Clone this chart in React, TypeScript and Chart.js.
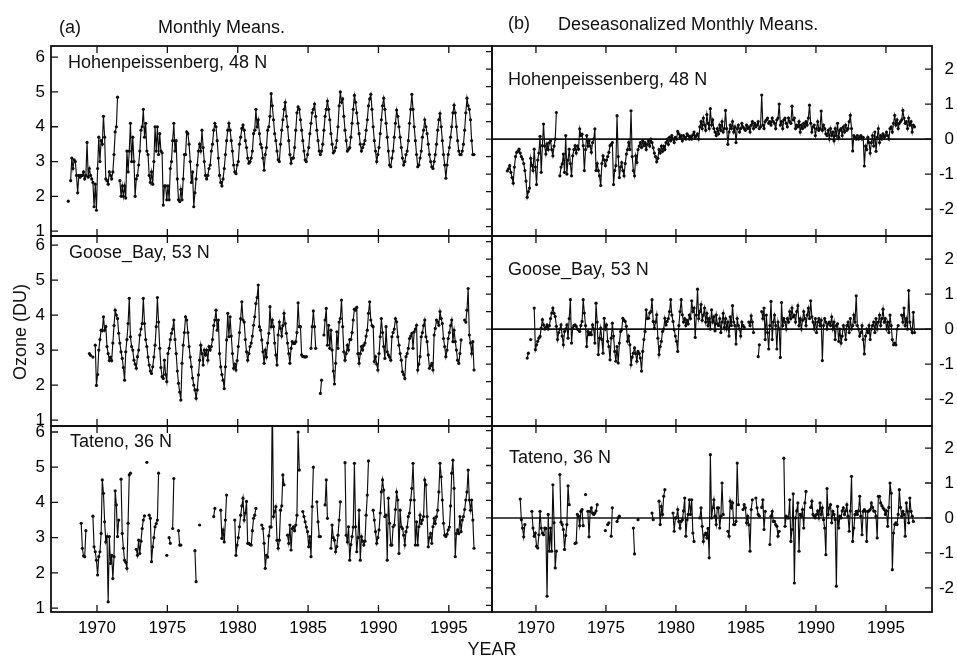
import React, { useEffect, useRef } from 'react';
import { Chart, registerables } from 'chart.js';

Chart.register(...registerables);

const _ = null;
const FONT = '"Liberation Sans", Arial, Helvetica, sans-serif';

// ---- tick labels ----
const YEAR_TICKS = [1970, 1975, 1980, 1985, 1990, 1995];
const MONTHLY_TICKS = [1, 2, 3, 4, 5, 6];
const ANOMALY_TICKS = [-2, -1, 0, 1, 2];
const ANOMALY_MINOR = [-2.5, -2, -1.5, -1, -0.5, 0, 0.5, 1, 1.5, 2, 2.5];
const MONTHS = 12;

// ---- Hohenpeissenberg, 48 N (rows = years, Jan..Dec) ----
const hohenStart = 1967;
const hohenMonthly = [
  [_, _, _, _, _, _, _, _, _, _, _, 1.86],
  [_, 2.45, 3.1, 2.8, 3.05, 3.0, 2.6, 2.1, 2.6, 2.55, 2.6, 2.6],
  [2.7, 2.5, 2.6, 3.55, 2.55, 2.8, 2.6, 2.5, 2.4, 1.7, 2.35, 1.6],
  [2.8, 3.7, 3.0, 3.6, 3.5, 4.3, 3.7, 2.5, 2.45, 2.35, 2.7, 2.6],
  [2.5, 2.7, 3.2, 3.85, 4.0, 4.85, _, 2.45, 2.0, 2.3, 2.0, 2.3],
  [1.95, 3.3, 2.7, 3.3, 4.1, 3.0, 3.7, 3.0, 2.0, 2.5, 2.6, 2.9],
  [3.3, 3.9, 4.0, 4.5, 3.7, 4.1, 3.3, 3.2, 2.6, 2.4, 2.7, 2.35],
  [3.0, 4.0, 3.3, 4.0, 3.2, 3.8, 3.3, 3.25, 1.75, 2.3, 2.3, 1.9],
  [2.3, 1.9, 2.8, 3.0, 3.6, 4.1, 3.3, 3.6, 2.5, 1.9, 1.85, 2.2],
  [1.9, 2.5, 3.2, 3.2, 3.85, 3.8, 3.5, 3.0, 2.4, 2.7, 1.7, 2.1],
  [2.5, 2.9, 3.3, 3.5, 3.3, 3.9, 3.4, 3.0, 2.6, 2.5, 2.6, 2.8],
  [2.9, 3.3, 3.5, 3.9, 4.1, 4.0, 3.6, 3.1, 2.6, 2.4, 2.3, 2.5],
  [2.8, 3.2, 3.6, 3.9, 4.1, 3.9, 3.6, 3.3, 2.9, 2.7, 2.65, 2.9],
  [3.0, 3.5, 3.7, 3.95, 4.05, 3.9, 3.6, 3.4, 3.1, 2.95, 3.0, 3.1],
  [3.3, 3.8, 3.9, 4.5, 4.0, 4.2, 3.8, 3.5, 3.4, 3.1, 2.75, 3.2],
  [3.4, 3.9, 4.0, 4.3, 4.95, 4.6, 4.2, 3.8, 3.6, 3.3, 3.05, 3.0],
  [3.5, 3.9, 4.2, 4.5, 4.7, 4.3, 4.0, 3.6, 3.2, 2.95, 3.1, 3.1],
  [3.4, 3.9, 4.4, 4.57, 4.5, 4.2, 3.9, 3.6, 3.3, 3.05, 3.0, 3.2],
  [3.4, 3.8, 4.1, 4.4, 4.5, 4.65, 4.3, 3.9, 3.6, 3.3, 3.2, 3.3],
  [3.5, 3.9, 4.3, 4.5, 4.74, 4.5, 4.2, 3.8, 3.5, 3.25, 3.3, 3.4],
  [3.6, 4.0, 4.6, 5.0, 4.7, 4.8, 4.3, 3.9, 3.6, 3.3, 3.35, 3.4],
  [3.7, 4.1, 4.5, 4.9, 4.7, 4.4, 4.1, 3.8, 3.5, 3.3, 3.4, 3.5],
  [3.6, 3.9, 4.2, 4.6, 4.8, 4.93, 4.5, 4.0, 3.6, 3.3, 3.0, 3.2],
  [3.4, 3.8, 4.2, 4.6, 4.82, 4.5, 4.1, 3.7, 3.3, 2.9, 2.85, 3.1],
  [3.3, 3.7, 4.1, 4.48, 4.3, 4.0, 3.7, 3.4, 3.1, 2.9, 3.0, 3.2],
  [3.3, 3.6, 4.1, 4.5, 4.93, 4.5, 4.0, 3.6, 3.2, 2.85, 2.9, 3.1],
  [3.3, 3.7, 3.9, 4.2, 4.0, 3.8, 3.5, 3.2, 3.0, 2.85, 2.8, 3.0],
  [3.2, 3.5, 3.9, 4.2, 4.38, 4.0, 3.6, 3.2, 2.9, 2.52, 2.9, 3.2],
  [3.4, 3.7, 4.0, 4.4, 4.62, 4.4, 4.0, 3.6, 3.3, 3.2, 3.2, 3.3],
  [3.5, 3.9, 4.4, 4.82, 4.6, 4.5, 4.2, 3.6, 3.2, 3.2, _, _],
];
const hohenDeseason = [
  [_, _, _, _, _, _, _, _, _, _, _, -0.91],
  [-0.85, -0.76, -0.95, -1.1, -1.26, -0.8, -0.5, -0.38, -0.35, -0.29, -0.4, -0.5],
  [-0.57, -0.7, -0.9, -1.2, -1.66, -1.5, -1.4, -0.55, -0.75, -0.9, -0.29, -0.8],
  [-1.3, -0.6, -0.4, 0.08, -0.95, -0.19, 0.43, -0.2, -0.43, -0.14, -0.3, -0.1],
  [-0.05, -0.3, -0.48, -0.2, 0.0, 0.76, _, _, -1.05, -0.8, -0.71, -0.43],
  [-0.95, 0.1, -1.0, -0.6, -0.29, -0.7, -1.05, -0.48, -0.3, -0.19, -0.4, -0.2],
  [-0.29, 0.29, 0.1, 0.14, -0.19, -0.9, -0.3, 0.1, -0.2, -0.05, -0.2, -0.38],
  [-0.1, 0.0, 0.29, -0.9, -0.7, -0.9, -1.05, -1.33, -0.7, -0.48, -0.6, -0.76],
  [-0.6, -0.5, -0.38, -0.19, -0.15, -0.1, -1.3, -0.9, -0.76, 0.67, -0.5, -1.1],
  [-0.8, -0.67, -0.9, -1.05, -0.7, -0.43, -0.3, -0.1, -0.3, 0.81, -0.5, -0.9],
  [-1.05, -0.48, -0.67, -0.3, -0.2, -0.1, -0.24, -0.05, -0.19, -0.1, -0.3, -0.15],
  [-0.05, -0.2, 0.0, -0.1, -0.25, -0.4, -0.5, -0.65, -0.55, -0.3, -0.4, -0.2],
  [-0.35, -0.2, -0.3, -0.1, 0.0, -0.15, 0.05, -0.05, 0.1, 0.0, -0.1, 0.05],
  [0.0, 0.22, 0.15, 0.05, 0.1, -0.05, 0.1, 0.05, 0.0, 0.15, 0.1, 0.0],
  [0.08, 0.0, 0.12, 0.2, 0.05, 0.1, 0.15, 0.0, 0.35, 0.5, 0.3, 0.6],
  [0.4, 0.25, 0.7, 0.45, 0.3, 0.87, 0.4, 0.55, 0.3, 0.2, 0.1, 0.3],
  [0.15, 0.4, 0.25, 0.5, 0.2, 0.3, 0.82, 0.3, -0.15, 0.2, 0.4, 0.3],
  [0.5, 0.2, 0.35, -0.1, 0.3, 0.4, 0.2, 0.3, 0.45, 0.35, 0.3, 0.25],
  [0.4, 0.3, 0.35, 0.2, 0.4, 0.5, 0.3, 0.45, 0.35, 0.4, 0.5, 0.3],
  [0.35, 1.26, 0.4, 0.3, 0.5, 0.55, 0.6, 0.45, 0.5, 0.4, 0.6, 0.5],
  [0.45, 0.3, 0.55, 0.6, 1.0, 0.4, 0.5, 0.3, 0.55, 0.6, 0.45, 0.35],
  [0.6, 0.5, 0.45, 0.94, 0.55, 0.6, 0.3, 0.4, 0.35, 0.5, 0.2, 0.4],
  [0.3, 0.45, 0.35, 0.5, 0.4, 0.6, 0.97, 0.45, 0.2, 0.35, 0.4, 0.1],
  [0.3, 0.5, 0.25, 0.3, 0.8, 0.25, 0.4, 0.3, 0.15, 0.1, 0.25, 0.0],
  [0.3, 0.1, 0.2, -0.05, 0.3, 0.1, 0.45, 0.05, 0.25, 0.3, 0.1, 0.35],
  [0.2, 0.4, 0.25, 0.3, 0.5, 0.68, 0.3, -0.34, 0.1, 0.05, 0.0, 0.1],
  [0.0, 0.05, 0.1, 0.0, 0.05, -0.77, -0.2, -0.3, 0.05, -0.1, -0.4, -0.1],
  [0.1, -0.2, 0.2, -0.35, 0.05, 0.3, -0.1, 0.1, 0.0, 0.15, 0.05, 0.1],
  [0.2, 0.1, 0.0, 0.3, 0.35, 0.2, 0.45, 0.68, 0.4, 0.55, 0.3, 0.45],
  [0.5, 0.55, 0.82, 0.6, 0.45, 0.5, 0.3, 0.6, 0.4, 0.5, 0.2, 0.4],
  [0.35],
];

// ---- Goose_Bay, 53 N ----
const gooseStart = 1969;
const gooseMonthly = [
  [_, _, _, _, _, 2.9, 2.85, _, 2.8, _, 3.14, 1.99],
  [2.3, 3.0, 3.3, 3.57, 3.55, 3.95, 3.57, 3.67, 3.1, 2.9, 2.7, 2.8],
  [2.7, 3.2, 3.7, 4.14, 4.0, 3.9, 3.48, 3.2, 2.95, 2.76, 2.5, 2.14],
  [2.95, 3.3, 3.76, 4.48, 3.38, 3.1, 3.0, 2.71, 2.6, 2.48, 2.81, 3.0],
  [3.43, 3.6, 3.76, 4.48, 3.76, 3.3, 3.1, 2.8, 2.57, 2.4, 2.33, 2.52],
  [2.8, 3.14, 3.67, 4.5, 3.8, 3.05, 2.5, 2.24, 2.19, 2.71, 2.3, 2.1],
  [2.9, 3.05, 3.3, 3.48, 3.6, 3.86, 3.3, 2.9, 2.4, 2.05, 1.8, 1.57],
  [2.62, 3.14, 3.5, 3.95, 3.86, 3.5, 3.1, 2.8, 2.52, 2.2, 2.0, 1.86],
  [1.62, 1.86, 2.29, 2.71, 3.14, 2.9, 2.57, 3.0, 2.86, 3.0, 2.71, 3.1],
  [3.0, 3.1, 3.3, 3.7, 3.86, 4.14, 3.57, 3.86, 2.9, 2.52, 2.3, 2.14],
  [1.9, 2.52, 3.29, 4.05, 3.38, 3.95, 3.4, 2.9, 2.48, 2.6, 2.43, 2.7],
  [3.1, 3.5, 3.9, 4.38, 3.86, 3.8, 3.3, 2.95, 2.71, 2.9, 3.1, 3.2],
  [3.4, 3.71, 3.95, 4.33, 4.5, 4.86, 3.67, 3.57, 3.29, 2.95, 2.62, 3.0],
  [2.8, 3.2, 3.48, 4.24, 3.67, 3.86, 3.67, 3.2, 2.86, 2.57, 3.43, 3.8],
  [3.62, 3.4, 3.7, 4.05, 3.76, 3.48, 3.2, 2.9, 2.62, 3.05, 3.24, 3.19],
  [3.19, 3.24, 3.5, 4.35, 3.67, 3.67, 2.86, 2.81, 2.81, 2.8, 2.81, _],
  [_, _, 3.05, 3.67, 4.12, 3.67, 3.05, _, _, _, 1.76, 2.14],
  [_, 3.43, 3.86, 4.19, 3.14, 3.71, 3.05, 3.57, 3.0, 2.4, 2.03, 2.62],
  [3.52, 3.05, 3.8, 3.9, 4.43, 3.67, 2.95, 2.71, 2.9, 3.14, 3.0, 3.3],
  [3.3, 3.5, 3.86, 4.17, 4.14, 4.22, 2.9, 2.62, 2.9, 3.1, 3.0, 3.14],
  [3.2, 3.4, 3.57, 4.05, 4.38, 3.86, 3.7, 3.67, 2.67, 2.81, 2.6, 2.43],
  [2.9, 3.38, 3.9, 3.5, 3.1, 2.76, 3.67, 2.95, 2.86, 2.8, 2.71, 3.38],
  [3.5, 3.6, 3.9, 3.81, 3.38, 3.14, 2.9, 2.71, 2.38, 2.3, 2.19, 2.81],
  [2.9, 3.05, 3.33, 3.4, 3.48, 3.05, 3.52, 3.6, 3.71, 2.43, 2.6, 2.81],
  [3.38, 3.5, 3.7, 3.86, 3.38, 3.24, 2.86, 2.48, 2.55, 2.62, 2.43, 3.43],
  [3.62, 3.86, 3.8, 3.71, 4.1, 3.9, 3.76, 3.33, 3.1, 2.81, 3.0, 3.33],
  [3.5, 3.7, 3.86, 3.24, 3.57, 3.24, 3.0, 2.71, 2.62, 2.9, 3.29, _],
  [_, 3.86, 3.8, 4.14, 4.76, 3.43, 3.2, 2.9, 3.24, 2.43, _, _],
];
const gooseDeseason = [
  [_, _, _, _, -0.83, -0.69, _, -0.3, _, _, 0.6, -0.59],
  [-0.45, -0.35, -0.26, -0.21, 0.03, 0.27, 0.12, 0.0, 0.05, 0.12, 0.0, 0.1],
  [0.3, 0.46, 0.6, 0.45, 0.36, 0.08, -0.3, -0.1, 0.0, 0.12, -0.2, -0.45],
  [-0.07, 0.0, 0.12, -0.26, 0.3, 0.84, -0.4, 0.03, 0.1, 0.12, 0.08, 0.0],
  [-0.02, -0.07, 0.1, 0.22, 0.84, 0.46, 0.1, -0.5, -0.07, -0.16, -0.1, -0.16],
  [0.12, 0.0, -0.4, 0.74, 0.2, -0.73, -0.26, 0.03, -0.3, -0.69, 0.31, 0.0],
  [0.12, -0.35, -0.5, -0.88, -0.26, 0.17, -0.2, -0.64, -0.92, -0.5, -0.97, -0.4],
  [-0.07, -0.02, 0.31, 0.25, 0.22, 0.08, -0.35, -0.2, -0.45, -1.02, -0.8, -0.69],
  [-0.54, -0.7, -0.92, -0.64, -0.7, -0.83, -1.2, -0.64, -0.3, -0.07, 0.55, 0.3],
  [0.31, 0.46, 0.5, 0.84, 0.22, 0.03, 0.2, 0.41, -0.26, -0.73, -0.5, -0.35],
  [-0.07, 0.0, 0.31, 0.12, 0.22, 0.3, 0.5, 0.84, 0.4, 0.22, -0.02, -0.2],
  [-0.35, -0.64, 0.1, 0.5, 0.84, 0.41, 0.2, 0.3, 0.1, 0.25, 0.15, 0.4],
  [0.3, 0.81, 0.5, 0.6, -0.24, 0.4, 1.14, 0.3, 0.5, 0.7, 0.25, 0.4],
  [0.6, 0.2, 0.45, 0.1, 0.3, 0.0, 0.55, 0.2, 0.35, -0.05, 0.4, 0.15],
  [0.1, 0.3, -0.1, 0.2, 0.45, 0.05, 0.3, 0.0, 0.2, -0.2, 0.35, 0.1],
  [0.67, 0.2, 0.1, -0.43, 0.3, 0.1, 0.0, -0.2, 0.2, 0.1, 0.05, _],
  [_, _, 0.2, 0.1, 0.38, 0.2, -0.1, _, _, _, -0.79, -0.45],
  [_, 0.5, 0.3, 0.6, -0.3, 0.4, -0.1, -0.57, 0.1, 0.79, -0.3, 0.2],
  [0.4, 0.1, -0.57, 0.2, 0.0, -0.81, 0.76, 0.1, 0.3, 0.2, 0.0, 0.3],
  [0.2, 0.5, 0.3, 0.6, 0.35, 0.4, 0.2, 0.5, 0.67, 0.1, 0.3, 0.0],
  [0.25, 0.5, 0.3, 0.1, 0.4, 0.6, 0.3, 0.81, 0.35, 0.2, 0.0, 0.3],
  [-0.1, 0.2, 0.3, 0.1, 0.25, -0.9, 0.1, 0.3, 0.2, 0.0, 0.15, 0.2],
  [0.1, 0.35, 0.0, 0.2, -0.3, 0.1, 0.15, -0.35, 0.0, -0.4, -0.2, 0.1],
  [0.0, -0.3, 0.1, 0.2, -0.1, 0.3, 0.0, 0.1, 0.4, 0.2, 0.95, 0.1],
  [0.0, -0.2, -0.1, 0.1, -0.3, -0.71, -0.2, 0.0, -0.1, 0.1, -0.3, 0.0],
  [0.1, 0.2, -0.1, 0.3, 0.0, 0.2, 0.4, 0.1, 0.3, 0.57, 0.2, 0.3],
  [0.0, 0.2, -0.1, 0.4, 0.1, -0.3, -0.45, -0.4, -0.45, 0.0, 0.1, _],
  [_, 0.4, 0.2, 0.6, 0.1, 0.3, 0.0, 1.1, 0.2, 0.0, -0.1, 0.48],
  [-0.1],
];

// ---- Tateno, 36 N ----
const tatenoStart = 1968;
const tatenoMonthly = [
  [_, _, _, _, _, _, _, _, _, _, 3.41, 2.7],
  [2.48, 2.46, 3.2, _, _, _, _, _, 3.61, 2.74, 2.6, 2.36],
  [1.94, 2.46, 2.6, 3.12, 4.64, 4.26, 3.45, 2.88, 3.03, 1.18, 3.03, 2.27],
  [2.5, 1.84, 2.46, 4.33, 3.93, 3.03, 3.5, _, 4.66, 3.12, 2.7, 2.36],
  [2.3, 2.13, 3.41, 4.78, 4.83, _, _, _, _, 2.67, 2.5, 2.93],
  [2.55, 2.9, 3.26, 3.5, 3.62, _, 5.14, _, 3.64, 3.55, 2.32, 2.74],
  [3.0, 3.31, 3.4, 3.5, 4.83, _, _, _, _, _, _, 2.5],
  [_, 3.0, 2.84, _, 3.26, 4.68, _, _, _, 3.2, 2.79, 2.79],
  [_, _, _, _, _, _, _, _, _, _, _, 2.63],
  [1.75, _, _, 3.36, _, _, _, _, _, _, _, _],
  [_, _, _, 3.6, 3.83, _, _, _, _, 3.78, 2.98, 3.22],
  [2.88, 3.5, 4.21, _, _, _, _, _, _, 3.5, 2.5, 2.79],
  [3.0, 3.31, 3.64, 3.9, 4.12, 3.5, 3.7, 4.03, 2.84, 2.84, 2.8, 2.79],
  [3.2, 3.55, 3.64, 3.83, _, _, _, _, 3.36, 3.26, 2.84, 2.13],
  [2.5, 2.45, 3.05, 3.31, 3.3, 7.0, 3.6, 3.74, 3.88, 2.93, 2.7, 2.93],
  [3.78, 3.9, 4.78, 4.5, _, _, 3.07, 2.84, 3.36, 2.65, 3.26, 3.31],
  [3.2, 3.36, 3.64, 6.0, 4.92, _, _, 3.74, 3.6, 3.45, 3.3, 3.17],
  [2.74, 3.03, 2.46, 3.88, 5.0, _, _, 4.02, 3.45, 3.03, 3.03, _],
  [_, _, 3.93, 4.64, 3.55, _, _, 2.7, 3.36, 3.0, 2.93, 2.6],
  [2.75, 3.07, 3.5, 4.02, _, _, _, 5.13, 3.07, 2.88, 3.31, 2.36],
  [2.8, 3.03, 3.3, 5.11, 3.31, 2.6, 3.0, 3.78, 2.36, 3.03, 2.9, 2.79],
  [2.9, 3.64, 4.21, 5.18, _, _, _, 3.78, 3.5, 3.17, 2.84, 3.0],
  [3.22, 3.7, 4.3, 4.64, 4.35, 3.6, 3.64, 2.36, 4.12, 3.41, 2.79, 2.79],
  [3.31, 3.36, 3.8, 4.3, 4.07, 2.55, 3.78, 3.31, 3.26, 3.07, 2.79, 3.17],
  [3.3, 3.6, 3.7, 4.07, 4.4, 5.11, 4.07, 2.79, 3.45, 2.79, 3.31, 3.64],
  [3.4, 3.5, 3.6, 4.64, 4.5, 3.6, 2.74, 3.0, 3.12, 2.84, 3.31, 3.55],
  [3.4, 3.6, 3.78, 4.3, 5.11, 4.73, 4.07, 3.41, 3.07, 3.03, 3.1, 3.22],
  [3.3, 3.9, 4.83, 5.2, 4.4, 2.46, 3.12, 3.22, 3.12, 3.6, 3.17, 3.5],
  [3.6, 3.8, 4.07, 4.3, 4.92, 4.07, 3.78, 4.07, 3.5, 2.7, _, _],
];
const tatenoDeseason = [
  [_, _, _, _, _, _, _, _, _, _, 0.54, -0.05],
  [-0.29, -0.54, -0.19, _, _, _, _, _, 0.19, -0.29, -0.52, -0.43],
  [-0.81, -0.86, -0.48, 0.19, -0.29, -0.43, -0.48, -0.29, -0.3, -2.24, 0.1, -0.95],
  [-0.29, -0.95, 0.95, -0.14, -1.43, -0.95, _, _, 1.24, -0.12, -0.19, -0.33],
  [-0.9, -0.5, -0.19, 0.92, 0.38, _, _, _, _, -0.73, -0.71, 0.1],
  [0.05, -0.22, 0.19, 0.24, -0.22, _, 0.67, _, 0.19, -0.54, 0.19, 0.29],
  [0.14, 0.1, 0.14, 0.2, 0.38, _, _, _, _, _, _, -0.36],
  [_, -0.19, -0.14, _, -0.52, 0.29, _, _, _, -0.1, 0.0, 0.05],
  [_, _, _, _, _, _, _, _, _, _, _, -0.29],
  [-1.03, _, _, -0.05, _, _, _, _, _, _, _, _],
  [_, _, _, 0.14, -0.05, _, _, _, _, 0.48, -0.19, 0.33],
  [0.1, 0.62, 0.81, _, _, _, _, _, _, 0.14, -0.38, 0.0],
  [0.0, 0.24, -0.1, -0.29, -0.1, -0.05, 0.2, 0.57, -0.52, -0.05, 0.1, 0.52],
  [0.1, 0.52, -0.43, -0.67, _, _, _, _, 0.0, 0.29, -0.24, -0.67],
  [-0.48, -0.43, -0.57, -0.3, -1.14, 1.81, 0.0, 0.29, 0.52, 0.05, -0.19, 0.29],
  [0.29, -0.29, 0.05, 1.0, 0.1, _, _, _, -0.38, -0.52, 0.48, 0.29],
  [0.43, -0.19, -0.19, -0.1, 1.57, 0.38, _, _, _, 0.24, 0.38, 0.29],
  [-0.14, 0.05, -0.2, -0.95, 0.24, 0.52, _, _, 0.57, 0.29, 0.1, 0.05],
  [_, 0.3, 0.52, -0.33, 0.19, _, _, _, -0.76, 0.05, 0.19, -0.1],
  [-0.1, -0.19, -0.24, -0.52, -0.38, _, _, _, 1.71, -0.24, 0.05, 0.0],
  [0.0, 0.52, -0.67, -0.33, 0.69, -1.86, 0.0, 0.2, 0.43, -0.95, 0.1, 0.05],
  [0.24, -0.29, 0.43, 0.76, _, _, _, 0.3, 0.48, 0.1, 0.05, 0.0],
  [0.1, 0.2, 0.0, 0.43, 0.1, 0.29, -0.05, -0.29, -1.05, 0.84, 0.1, 0.29],
  [0.38, -0.14, 0.19, 0.1, -0.05, -1.95, 0.33, -0.29, 0.05, 0.0, 0.2, 0.29],
  [0.1, 0.2, 0.38, 0.05, -0.38, 0.2, 1.19, -0.67, -0.29, 0.1, 0.19, 0.1],
  [0.2, 0.62, 0.05, -0.48, 0.19, 0.24, 0.19, -0.67, 0.19, 0.2, 0.24, 0.43],
  [0.3, 0.2, 0.19, 0.05, -0.57, 0.62, 0.62, 0.43, 0.35, 0.29, 0.24, 0.1],
  [0.2, -0.24, 0.3, 1.0, 0.71, -1.48, -0.43, -0.19, -0.14, -0.19, 0.1, 0.81],
  [0.3, 0.05, 0.19, 0.1, -0.52, 0.43, 0.19, -0.14, 0.57, 0.19, 0.05, -0.1],
];

// ---- layout (not data) ----
const COLS = [
  { canvasLeft: 0, canvasWidth: 500, xMin: 1966.73, xMax: 1998.07 },
  { canvasLeft: 484, canvasWidth: 473, xMin: 1966.86, xMax: 1998.29 },
];
const ROWS = [
  { canvasTop: 36, canvasHeight: 210, axisH: 10 },
  { canvasTop: 226, canvasHeight: 210, axisH: 10 },
  { canvasTop: 416, canvasHeight: 240, axisH: 44 },
];

type Rows = (number | null)[][];
type Spec = { key: string; col: number; row: number; rows: Rows; start: number; yMin: number; yMax: number };

const SPECS: Spec[] = [
  { key: 'a1', col: 0, row: 0, rows: hohenMonthly, start: hohenStart, yMin: 0.86, yMax: 6.32 },
  { key: 'b1', col: 1, row: 0, rows: hohenDeseason, start: hohenStart, yMin: -2.77, yMax: 2.66 },
  { key: 'a2', col: 0, row: 1, rows: gooseMonthly, start: gooseStart, yMin: 0.83, yMax: 6.26 },
  { key: 'b2', col: 1, row: 1, rows: gooseDeseason, start: gooseStart, yMin: -2.77, yMax: 2.66 },
  { key: 'a3', col: 0, row: 2, rows: tatenoMonthly, start: tatenoStart, yMin: 0.89, yMax: 6.17 },
  { key: 'b3', col: 1, row: 2, rows: tatenoDeseason, start: tatenoStart, yMin: -2.69, yMax: 2.63 },
];

function toPoints(rows: Rows, start: number) {
  const pts: { x: number; y: number | null }[] = [];
  rows.forEach((row, yi) => {
    row.forEach((v, m) => {
      pts.push({ x: start + yi + (m + 0.5) / MONTHS, y: v });
    });
  });
  return pts;
}

function framePlugin(s: Spec) {
  const ink = '#111';
  return {
    id: 'panelFrame',
    beforeDatasetsDraw(chart: any) {
      if (s.col !== 1) return;
      const { ctx, chartArea: a, scales } = chart;
      const y0 = scales.y.getPixelForValue(0);
      ctx.save();
      ctx.strokeStyle = ink;
      ctx.lineWidth = 1.6;
      ctx.beginPath();
      ctx.moveTo(a.left, y0);
      ctx.lineTo(a.right, y0);
      ctx.stroke();
      ctx.restore();
    },
    afterDatasetsDraw(chart: any) {
      const { ctx, chartArea: a, scales } = chart;
      const xs = scales.x;
      const ys = scales.y;
      ctx.save();
      ctx.strokeStyle = ink;
      ctx.lineWidth = 1.8;
      ctx.strokeRect(a.left, a.top, a.right - a.left, a.bottom - a.top);
      ctx.lineWidth = 1.3;
      ctx.beginPath();
      const tl = 7;
      for (const yr of YEAR_TICKS) {
        const px = xs.getPixelForValue(yr);
        ctx.moveTo(px, a.top);
        ctx.lineTo(px, a.top + tl);
        ctx.moveTo(px, a.bottom);
        ctx.lineTo(px, a.bottom - tl);
      }
      if (s.col === 0) {
        for (const v of MONTHLY_TICKS) {
          const py = ys.getPixelForValue(v);
          if (py < a.top || py > a.bottom) continue;
          ctx.moveTo(a.left, py);
          ctx.lineTo(a.left + tl, py);
        }
      } else {
        for (const v of ANOMALY_TICKS) {
          const py = ys.getPixelForValue(v);
          ctx.moveTo(a.right, py);
          ctx.lineTo(a.right - tl, py);
        }
        for (const v of ANOMALY_MINOR) {
          const py = ys.getPixelForValue(v);
          if (py < a.top + 1 || py > a.bottom - 1) continue;
          ctx.moveTo(a.left, py);
          ctx.lineTo(a.left - 6, py);
        }
      }
      ctx.stroke();
      ctx.restore();
    },
  };
}

function makeConfig(s: Spec): any {
  const isLeft = s.col === 0;
  const isBottom = s.row === 2;
  const col = COLS[s.col];
  const row = ROWS[s.row];
  const tickFont = { family: FONT, size: 17 };
  return {
    type: 'line',
    data: {
      datasets: [
        {
          data: toPoints(s.rows, s.start),
          borderColor: '#0d0d0d',
          borderWidth: 1.15,
          pointRadius: 1.6,
          pointHoverRadius: 0,
          pointBackgroundColor: '#0d0d0d',
          pointBorderWidth: 0,
          tension: 0,
          spanGaps: false,
          clip: 0,
        },
      ],
    },
    options: {
      responsive: false,
      maintainAspectRatio: false,
      animation: false,
      devicePixelRatio: 1,
      events: [],
      layout: {
        padding: { left: isLeft ? 0 : 8, right: isLeft ? 8 : 3, top: 10, bottom: 0 },
      },
      plugins: { legend: { display: false }, tooltip: { enabled: false }, title: { display: false } },
      scales: {
        x: {
          type: 'linear',
          min: col.xMin,
          max: col.xMax,
          display: true,
          grid: { display: false, drawTicks: false },
          border: { display: false },
          ticks: {
            display: isBottom,
            color: '#000',
            font: tickFont,
            padding: 6,
            maxRotation: 0,
            autoSkip: false,
            callback: (v: number) => String(v),
          },
          afterBuildTicks: (sc: any) => {
            sc.ticks = YEAR_TICKS.map((v) => ({ value: v }));
          },
          afterFit: (sc: any) => {
            sc.height = row.axisH;
            sc.paddingLeft = 0;
            sc.paddingRight = 0;
            sc.paddingTop = 0;
            sc.paddingBottom = 0;
          },
        },
        y: {
          type: 'linear',
          position: isLeft ? 'left' : 'right',
          min: s.yMin,
          max: s.yMax,
          grid: { display: false, drawTicks: false },
          border: { display: false },
          ticks: {
            color: '#000',
            font: tickFont,
            padding: 6,
            crossAlign: isLeft ? 'near' : 'far',
            callback: (v: number) => String(v),
          },
          afterBuildTicks: (sc: any) => {
            sc.ticks = (isLeft ? MONTHLY_TICKS : ANOMALY_TICKS).map((v) => ({ value: v }));
          },
          afterFit: (sc: any) => {
            sc.width = isLeft ? 51 : 22;
            sc.paddingTop = 0;
            sc.paddingBottom = 0;
            sc.paddingLeft = 0;
            sc.paddingRight = 0;
          },
        },
      },
    },
    plugins: [framePlugin(s)],
  };
}

function Panel({ spec }: { spec: Spec }) {
  const ref = useRef<HTMLCanvasElement>(null);
  const col = COLS[spec.col];
  const row = ROWS[spec.row];
  useEffect(() => {
    if (!ref.current) return;
    const chart = new Chart(ref.current, makeConfig(spec));
    return () => chart.destroy();
  }, [spec]);
  return (
    <canvas
      ref={ref}
      width={col.canvasWidth}
      height={row.canvasHeight}
      style={{
        position: 'absolute',
        left: col.canvasLeft,
        top: row.canvasTop,
        width: col.canvasWidth,
        height: row.canvasHeight,
      }}
    />
  );
}

const TEXTS = [
  { text: '(a)', left: 59, top: 18 },
  { text: 'Monthly Means.', left: 158, top: 18 },
  { text: '(b)', left: 508, top: 14 },
  { text: 'Deseasonalized Monthly Means.', left: 558, top: 15 },
  { text: 'Hohenpeissenberg, 48 N', left: 68, top: 53 },
  { text: 'Hohenpeissenberg, 48 N', left: 508, top: 70 },
  { text: 'Goose_Bay, 53 N', left: 69, top: 243 },
  { text: 'Goose_Bay, 53 N', left: 508, top: 260 },
  { text: 'Tateno, 36 N', left: 70, top: 432 },
  { text: 'Tateno, 36 N', left: 509, top: 448 },
];

export default function App() {
  const base: React.CSSProperties = {
    position: 'absolute',
    fontFamily: FONT,
    fontSize: 18,
    lineHeight: '18px',
    color: '#111',
    whiteSpace: 'nowrap',
  };
  return (
    <div
      style={{
        position: 'absolute',
        left: 0,
        top: 0,
        width: 957,
        height: 656,
        background: '#fff',
        overflow: 'hidden',
      }}
    >
      {SPECS.map((s) => (
        <Panel key={s.key} spec={s} />
      ))}
      {TEXTS.map((t, i) => (
        <div key={i} style={{ ...base, left: t.left, top: t.top }}>
          {t.text}
        </div>
      ))}
      <div style={{ ...base, left: 492, top: 640, transform: 'translateX(-50%)' }}>YEAR</div>
      <div
        style={{
          ...base,
          left: 20,
          top: 332,
          transform: 'translate(-50%, -50%) rotate(-90deg)',
        }}
      >
        Ozone (DU)
      </div>
    </div>
  );
}
